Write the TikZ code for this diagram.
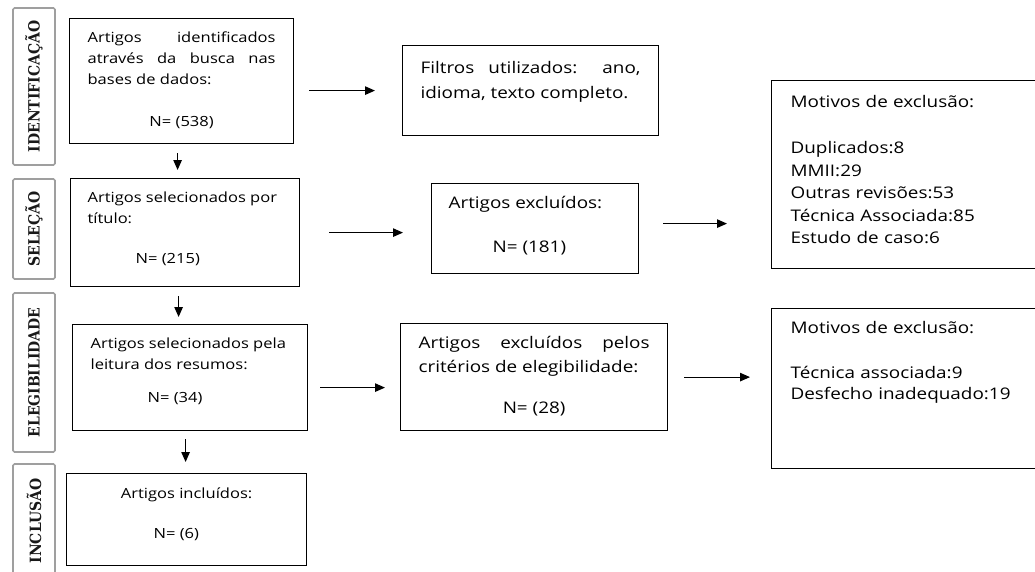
\documentclass[tikz,border=0pt]{standalone}
\usepackage{fontspec}
\setmainfont{Open Sans}[FakeStretch=1.18]
\newfontfamily\sidefont{DejaVu Serif}[FakeStretch=0.9]
\usetikzlibrary{arrows.meta}

\begin{document}
\begin{tikzpicture}[x=1pt,y=-1pt,>={Triangle[length=10pt,width=8.5pt]},
  every node/.style={font=\fontsize{14}{21}\selectfont},
  box/.style={draw,line width=1.2pt,anchor=north west,inner ysep=0pt,inner xsep=18pt,align=justify},
  wide/.style={font=\fontsize{16}{#1}\selectfont},
  stage/.style={draw=gray!75,line width=1.6pt,rounded corners=1.5pt,rotate=90,minimum height=42pt,inner sep=0pt,
    font=\sidefont\bfseries\fontsize{15.5}{17}\selectfont,text=black!90},
  flow/.style={->,line width=1.1pt}]
\clip (0,0) rectangle (1035,571);

% stage labels
\node[stage,minimum width=157pt] (sid) at (34,86.5) {IDENTIFICAÇÃO};
\node[stage,minimum width=100pt] (sse) at (34,229) {SELEÇÃO};
\node[stage,minimum width=159pt] (sel) at (34,372.5) {ELEGIBILIDADE};
\node[stage,minimum width=114pt] (sin) at (34,521) {INCLUSÃO};

% main column
\node[box,text width=188pt,text height=24pt,text depth=101pt] (ident) at (69,18)
  {Artigos identificados\linebreak através da busca nas\linebreak bases de dados:\par\vspace{21pt}{\centering N= (538)\par}};
\node[box,inner xsep=17pt,text width=195pt,text height=24pt,text depth=84pt] (titulo) at (70,178)
  {Artigos selecionados por\par título:\par\vspace{19pt}\hspace*{48pt}N= (215)};
\node[box,text width=199pt,text height=24pt,text depth=82pt] (resumo) at (72,324)
  {Artigos selecionados pela\par leitura dos resumos:\par\vspace{12pt}\hspace*{57pt}N= (34)};
\node[box,text width=204pt,text height=25pt,text depth=67pt] (incl) at (66,473)
  {{\centering Artigos incluídos:\par}\vspace{19pt}\hspace*{69pt}N= (6)};

% exclusions
\node[box,wide=24.5,text width=220pt,text height=28pt,text depth=62pt] (filtro) at (402,45)
  {Filtros utilizados: ano,\linebreak idioma, texto completo.};
\node[box,wide=21,inner xsep=17pt,text width=173pt,text height=25pt,text depth=65pt] (excl) at (431,183)
  {Artigos excluídos:\par\vspace{23pt}\hspace*{44pt}N= (181)};
\node[box,wide=24,text width=231pt,text height=25pt,text depth=82pt] (crit) at (400,323)
  {Artigos excluídos pelos\linebreak critérios de elegibilidade:\par\vspace{17pt}{\centering N= (28)\par}};
\node[box,align=left,wide=22.5,inner xsep=19pt,text width=250pt,text height=27pt,text depth=161pt] (mot1) at (771,80)
  {Motivos de exclusão:\par\vspace{23.5pt}Duplicados:8\par MMII:29\par Outras revisões:53\par Técnica Associada:85\par Estudo de caso:6};
\node[box,align=left,wide=21,inner xsep=19pt,text width=250pt,text height=25pt,text depth=135pt] (mot2) at (771,308)
  {Motivos de exclusão:\par\vspace{24pt}Técnica associada:9\par Desfecho inadequado:19};

% arrows
\draw[flow,shorten <=9pt,shorten >=8pt] ([xshift=-4pt]ident.south) -- ([xshift=-4pt]ident.south |- titulo.north);
\draw[flow,shorten <=9pt,shorten >=7pt] ([xshift=-6.5pt]titulo.south) -- ([xshift=-6.5pt]titulo.south |- resumo.north);
\draw[flow,shorten <=8pt,shorten >=11pt] ([xshift=-4.5pt]resumo.south) -- ([xshift=-4.5pt]resumo.south |- incl.north);
\draw[flow,shorten <=15pt,shorten >=27pt] (ident.east |- filtro) -- (filtro.west);
\draw[flow,shorten <=29pt,shorten >=28pt] (titulo.east) -- (titulo.east -| excl.west);
\draw[flow,shorten <=24pt,shorten >=44pt] ([yshift=5pt]excl.east) -- ([yshift=5pt]excl.east -| mot1.west);
\draw[flow,shorten <=12pt,shorten >=15pt] ([yshift=-10pt]resumo.east) -- ([yshift=-10pt]resumo.east -| crit.west);
\draw[flow,shorten <=16pt,shorten >=21pt] (crit.east) -- (crit.east -| mot2.west);
\end{tikzpicture}
\end{document}
